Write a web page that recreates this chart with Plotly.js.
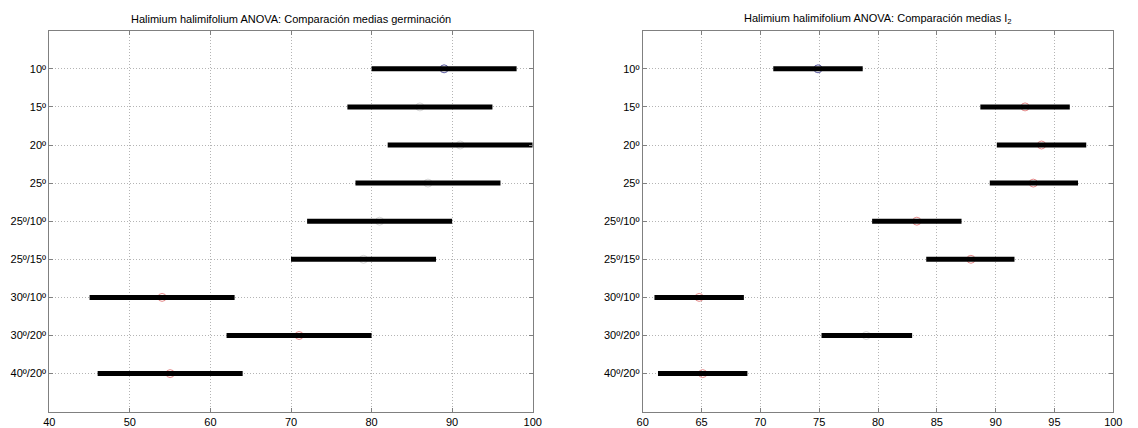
<!DOCTYPE html>
<html>
<head>
<meta charset="utf-8">
<script src="https://cdn.plot.ly/plotly-3.0.1.min.js"></script>
<style>html,body{margin:0;padding:0;background:#fff;}#chart{width:1138px;height:428px;}</style>
</head>
<body>
<div id="chart"></div>
<script>
// Groups (top to bottom)
const groups = ["10º","15º","20º","25º","25º/10º","25º/15º","30º/10º","30º/20º","40º/20º"];

// Germinación: means and comparison intervals
const germMean  = [89, 86, 91, 87, 81, 79, 54, 71, 55];
const germLower = [80, 77, 82, 78, 72, 70, 45, 62, 46];
const germUpper = [98, 95, 100, 96, 90, 88, 63, 80, 64];
const germStatus = ["sel","ns","ns","ns","ns","ns","sig","sig","sig"];

// I2: means and comparison intervals
const i2Mean  = [74.9, 92.5, 93.9, 93.2, 83.3, 87.9, 64.8, 79.0, 65.1];
const i2Lower = [71.1, 88.7, 90.1, 89.5, 79.5, 84.1, 61.0, 75.2, 61.3];
const i2Upper = [78.7, 96.3, 97.7, 97.0, 87.1, 91.6, 68.6, 82.9, 68.9];
const i2Status = ["sel","sig","sig","sig","sig","sig","sig","ns","sig"];

const xTicksLeft = [40,50,60,70,80,90,100];
const xTicksRight = [60,65,70,75,80,85,90,95,100];

const statusColor = {sel:"#5a5aa0", sig:"#e58a8a", ns:"#d8d8d8"};
const yPos = groups.map((g,i)=>i+1);

function makeTraces(mean, lo, hi, status, xa, ya){
  const cols = status.map(s=>statusColor[s]);
  return [{
    type:"scatter", mode:"markers", x:mean, y:yPos, xaxis:xa, yaxis:ya,
    marker:{symbol:"circle-open", size:8, color:cols, line:{width:1, color:cols}},
    showlegend:false
  },{
    type:"scatter", mode:"markers", x:mean, y:yPos, xaxis:xa, yaxis:ya,
    marker:{size:0.1, color:"rgba(0,0,0,0)"},
    error_x:{type:"data", symmetric:false,
      array: hi.map((h,i)=>h-mean[i]), arrayminus: mean.map((m,i)=>m-lo[i]),
      color:"#000", thickness:5, width:0},
    hoverinfo:"skip", showlegend:false
  }];
}

const data = [
  ...makeTraces(germMean, germLower, germUpper, germStatus, "x", "y"),
  ...makeTraces(i2Mean, i2Lower, i2Upper, i2Status, "x2", "y2")
];

const W=1138, H=428;
const yDom = [1-411.7/H, 1-30.7/H];
const font = {family:"Liberation Sans, Arial, sans-serif", size:11, color:"#000"};

function xaxis(dom, ticks, range, anchor){
  return {domain:dom, range:range, tickvals:ticks, ticktext:ticks.map(String),
    showgrid:true, gridcolor:"#b4b4b4", griddash:"1px,2px", gridwidth:1,
    zeroline:false, showline:true, linecolor:"#808080", linewidth:1, mirror:"ticks",
    ticks:"inside", ticklen:4, tickcolor:"#808080", anchor:anchor,
    tickfont:font, fixedrange:true};
}
function yaxis(anchor){
  return {domain:yDom, range:[10,0], tickvals:yPos, ticktext:groups,
    showgrid:true, gridcolor:"#b4b4b4", griddash:"1px,2px", gridwidth:1,
    zeroline:false, showline:true, linecolor:"#808080", linewidth:1, mirror:"ticks",
    ticks:"inside", ticklen:4, tickcolor:"#808080", anchor:anchor,
    tickfont:font, fixedrange:true};
}

const layout = {
  width:W, height:H, margin:{l:0,r:0,t:0,b:0},
  paper_bgcolor:"#fff", plot_bgcolor:"#fff", font:font, showlegend:false,
  xaxis: xaxis([49.3/W, 532.7/W], xTicksLeft, [40,100], "y"),
  yaxis: yaxis("x"),
  xaxis2: xaxis([642.7/W, 1113.3/W], xTicksRight, [60,100], "y2"),
  yaxis2: yaxis("x2"),
  annotations:[
    {text:"Halimium halimifolium ANOVA: Comparación medias germinación", xref:"paper", yref:"paper",
     x:(49.3+532.7)/2/W, y:1-19/H, xanchor:"center", yanchor:"middle", showarrow:false, font:font},
    {text:"Halimium halimifolium ANOVA: Comparación medias I<sub>2</sub>", xref:"paper", yref:"paper",
     x:(642.7+1113.3)/2/W, y:1-19/H, xanchor:"center", yanchor:"middle", showarrow:false, font:font}
  ]
};

Plotly.newPlot("chart", data, layout, {displayModeBar:false, staticPlot:true});
</script>
</body>
</html>
